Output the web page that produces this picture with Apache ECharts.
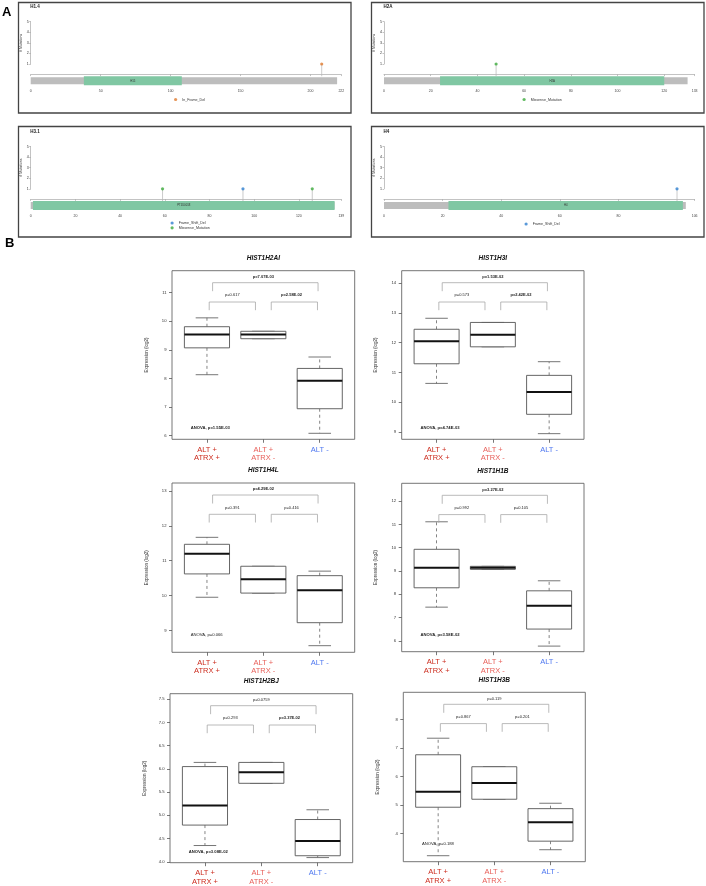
<!DOCTYPE html>
<html><head><meta charset="utf-8">
<script src="https://cdn.jsdelivr.net/npm/echarts@6/dist/echarts.min.js"></script>
<style>html,body{margin:0;padding:0;background:#fff}#c{width:706px;height:886px}</style>
</head><body><div id="c"></div>
<script>
// ---------------- Panel A data ----------------
const protNames = ['H1.4', 'H2A', 'H3.1', 'H4'];
const protLength = [219, 130, 136, 103];
const protAxisMax = [222, 133, 139, 106];
const protTicks = [
  [0, 50, 100, 150, 200, 222],
  [0, 20, 40, 60, 80, 100, 120, 133],
  [0, 20, 40, 60, 80, 100, 120, 139],
  [0, 20, 40, 60, 80, 106]
];
const domainName = ['H15', 'H2A', 'PTZ00018', 'H4'];
const domainStart = [38, 24, 1, 22];
const domainEnd = [108, 120, 136, 102];
const mutPos = [[208], [48], [59, 95, 126], [100]];
const mutCount = [[1], [1], [1, 1, 1], [1]];
const mutType = [['In_Frame_Del'], ['Missense_Mutation'], ['Missense_Mutation', 'Frame_Shift_Del', 'Missense_Mutation'], ['Frame_Shift_Del']];
const mutTicks = [1, 2, 3, 4, 5];

// ---------------- Panel B data ----------------
const genes = ['HIST1H2AI', 'HIST1H3I', 'HIST1H4L', 'HIST1H1B', 'HIST1H2BJ', 'HIST1H3B'];
const groups = ['ALT +\nATRX +', 'ALT +\nATRX -', 'ALT -'];
// per group: [lower whisker, Q1, median, Q3, upper whisker]
const stats_HIST1H2AI = [[8.13, 9.07, 9.54, 9.81, 10.12], [9.39, 9.39, 9.54, 9.65, 9.65], [6.08, 6.94, 7.92, 8.35, 8.75]];
const stats_HIST1H3I  = [[10.63, 11.29, 12.05, 12.45, 12.82], [11.86, 11.86, 12.27, 12.68, 12.68], [8.94, 9.59, 10.34, 10.90, 11.36]];
const stats_HIST1H4L  = [[9.95, 10.62, 11.20, 11.47, 11.67], [10.07, 10.07, 10.47, 10.84, 10.84], [8.56, 9.22, 10.15, 10.57, 10.70]];
const stats_HIST1H1B  = [[7.45, 8.28, 9.14, 9.93, 11.11], [9.07, 9.07, 9.14, 9.20, 9.20], [5.78, 6.51, 7.51, 8.15, 8.58]];
const stats_HIST1H2BJ = [[4.35, 4.79, 5.21, 6.05, 6.14], [5.69, 5.69, 5.93, 6.14, 6.14], [4.09, 4.13, 4.45, 4.91, 5.12]];
const stats_HIST1H3B  = [[3.22, 4.92, 5.46, 6.76, 7.34], [5.20, 5.20, 5.77, 6.34, 6.34], [3.43, 3.73, 4.39, 4.87, 5.06]];
const allStats = [stats_HIST1H2AI, stats_HIST1H3I, stats_HIST1H4L, stats_HIST1H1B, stats_HIST1H2BJ, stats_HIST1H3B];
const pPair12  = ['p=0.617', 'p=0.573', 'p=0.391', 'p=0.992', 'p=0.293', 'p=0.867'];
const pPair23  = ['p=2.58E-02', 'p=2.42E-02', 'p=0.416', 'p=0.105', 'p=3.37E-02', 'p=0.201'];
const pOverall = ['p=7.07E-03', 'p=1.53E-02', 'p=4.29E-02', 'p=3.27E-02', 'p=0.0759', 'p=0.119'];
const pAnova   = ['ANOVA, p=1.55E-03', 'ANOVA, p=4.74E-03', 'ANOVA, p=0.066', 'ANOVA, p=3.58E-02', 'ANOVA, p=3.08E-02', 'ANOVA, p=0.188'];
const yMin = [5.87, 8.75, 8.37, 5.54, 3.98, 3.01];
const yMax = [11.77, 14.42, 13.23, 12.76, 7.62, 8.95];
const yTicks = [
  [6, 7, 8, 9, 10, 11],
  [9, 10, 11, 12, 13, 14],
  [9, 10, 11, 12, 13],
  [6, 7, 8, 9, 10, 11, 12],
  [4.0, 4.5, 5.0, 5.5, 6.0, 6.5, 7.0, 7.5],
  [4, 5, 6, 7, 8]
];
const yTickLabels = [
  ['6', '7', '8', '9', '10', '11'],
  ['9', '10', '11', '12', '13', '14'],
  ['9', '10', '11', '12', '13'],
  ['6', '7', '8', '9', '10', '11', '12'],
  ['4.0', '4.5', '5.0', '5.5', '6.0', '6.5', '7.0', '7.5'],
  ['4', '5', '6', '7', '8']
];

// ---------------- layout / style ----------------
const FONT = "'Liberation Sans', Arial, Helvetica, sans-serif";
const mutColors = { In_Frame_Del: '#e07b2e', Missense_Mutation: '#3caa3c', Frame_Shift_Del: '#2f7fd0' };
const A_FRAME_X = [18.5, 371.5], A_FRAME_Y = [2.5, 126.5], A_FRAME_W = 332.5, A_FRAME_H = 110.5;
const A_AXIS_X = [30.7, 384], A_AXIS_W = 310.6, A_Y5 = [21.7, 146.5], A_UNIT = 10.575, A_YMIN = -1.2;
const A_LEGEND = [[174, 97.5], [522.5, 97.5], [170.5, 221], [524.5, 222]];
const B_GRIDS = [
  { left: 172, top: 270.7, width: 182.7, height: 168.6 },
  { left: 401.7, top: 270.7, width: 182.3, height: 168.6 },
  { left: 172, top: 483, width: 182.7, height: 169.3 },
  { left: 401.7, top: 483.3, width: 182.3, height: 168.4 },
  { left: 170, top: 693.7, width: 182.7, height: 169 },
  { left: 403.3, top: 692.3, width: 182, height: 169.4 }
];
const B_XMIN = 0.38, B_XMAX = 3.62;
const ANOVA_DY = [-11.6, -11.6, -17.3, -16.7, -11, -17.4];
const BRK = [
  { x1: 1.04, x2: 1.86, y: 31.3, drop: 8.2, ly: 24.4, lx: 1.45 },
  { x1: 2.14, x2: 2.96, y: 31.3, drop: 8.2, ly: 24.4, lx: 2.5 },
  { x1: 1.10, x2: 2.97, y: 12, drop: 8.5, ly: 6.2, lx: 2.0 }
];
const grpColors = ['#cc2b1d', '#e8605a', '#4f78f0'];

const isSig = s => parseFloat(s.replace(/.*p=/, '')) < 0.05;

const grids = [], xAxes = [], yAxes = [], series = [], legends = [], graphics = [];

graphics.push({ type: 'text', silent: true, style: { text: 'A', x: 2, y: 12.5, font: `bold 13px ${FONT}`, fill: '#000', textVerticalAlign: 'middle', verticalAlign: 'middle' } });
graphics.push({ type: 'text', silent: true, style: { text: 'B', x: 5, y: 243.5, font: `bold 13px ${FONT}`, fill: '#000', textVerticalAlign: 'middle', verticalAlign: 'middle' } });

// ---------------- Panel A: lollipop plots ----------------
protNames.forEach((name, i) => {
  const col = i % 2, row = Math.floor(i / 2);
  const left = A_AXIS_X[col], top = A_Y5[row];
  graphics.push({ type: 'rect', silent: true, shape: { x: A_FRAME_X[col], y: A_FRAME_Y[row], width: A_FRAME_W, height: A_FRAME_H },
    style: { fill: 'none', stroke: '#444', lineWidth: 1.3 } });
  graphics.push({ type: 'text', silent: true, style: { text: name, x: left - 0.5, y: top - 14.5, font: `bold 4.5px ${FONT}`, fill: '#222', textVerticalAlign: 'middle', verticalAlign: 'middle' } });

  // main grid
  const g = grids.length;
  grids.push({ left: left, top: top, width: A_AXIS_W, height: (5 - A_YMIN) * A_UNIT });
  xAxes.push({ gridIndex: g, type: 'value', min: 0, max: protAxisMax[i],
    axisLine: { lineStyle: { color: '#9a9a9a', width: 0.6 } },
    axisTick: { customValues: protTicks[i], length: 1.5, lineStyle: { color: '#9a9a9a', width: 0.6 } },
    axisLabel: { customValues: protTicks[i], fontSize: 3.5, margin: 2, color: '#444', fontFamily: FONT },
    splitLine: { show: false } });
  yAxes.push({ gridIndex: g, type: 'value', min: A_YMIN, max: 5, show: false });

  // protein bar + domain
  series.push({ type: 'custom', xAxisIndex: g, yAxisIndex: g, silent: true, z: 2,
    data: [[0, protLength[i], 0], [domainStart[i], domainEnd[i], 1]],
    renderItem: (params, api) => {
      const s = api.coord([api.value(0), 0])[0], e = api.coord([api.value(1), 0])[0];
      const base = api.coord([0, A_YMIN])[1];
      const dom = api.value(2) === 1;
      const y = dom ? base - 11 : base - 10, h = dom ? 9 : 7;
      const children = [{ type: 'rect', shape: { x: s, y: y, width: e - s, height: h }, style: { fill: dom ? '#80c7a3' : '#bdbdbd' } }];
      if (dom) children.push({ type: 'text', style: { text: domainName[i], x: (s + e) / 2, y: y + h / 2, font: `2.8px ${FONT}`, fill: '#333',
        align: 'center', textAlign: 'center', verticalAlign: 'middle', textVerticalAlign: 'middle' } });
      return { type: 'group', children };
    } });
  // stems
  series.push({ type: 'custom', xAxisIndex: g, yAxisIndex: g, silent: true, z: 3,
    data: mutPos[i].map((p, k) => [p, mutCount[i][k]]),
    renderItem: (params, api) => {
      const pt = api.coord([api.value(0), api.value(1)]);
      const base = api.coord([0, A_YMIN])[1];
      return { type: 'line', shape: { x1: pt[0], y1: pt[1], x2: pt[0], y2: base - 11 }, style: { stroke: '#b5b5b5', lineWidth: 0.7 } };
    } });
  // points
  const types = [...new Set(mutType[i])].sort();
  types.forEach(t => {
    series.push({ type: 'scatter', name: t, xAxisIndex: g, yAxisIndex: g, z: 5, symbol: 'circle', symbolSize: 3.2,
      itemStyle: { color: mutColors[t] },
      data: mutPos[i].map((p, k) => [p, mutCount[i][k], mutType[i][k]]).filter(d => d[2] === t).map(d => [d[0], d[1]]) });
  });
  legends.push({ data: types, orient: 'vertical', left: A_LEGEND[i][0], top: A_LEGEND[i][1], icon: 'circle', itemWidth: 3.2, itemHeight: 3.2,
    itemGap: 0.8, padding: 0, selectedMode: false, textStyle: { fontSize: 3.6, color: '#333', fontFamily: FONT } });

  // overlay grid for the mutation-count axis
  const g2 = grids.length;
  grids.push({ left: left, top: top, width: A_AXIS_W, height: 4 * A_UNIT });
  xAxes.push({ gridIndex: g2, type: 'value', min: 0, max: 1, show: false });
  yAxes.push({ gridIndex: g2, type: 'value', min: 1, max: 5,
    axisLine: { show: true, lineStyle: { color: '#9a9a9a', width: 0.6 } },
    axisTick: { show: true, customValues: mutTicks, length: 1.5, lineStyle: { color: '#9a9a9a', width: 0.6 } },
    axisLabel: { customValues: mutTicks, fontSize: 3.6, margin: 2, color: '#333', fontFamily: FONT },
    splitLine: { show: false },
    name: '# Mutations', nameLocation: 'middle', nameGap: 6, nameTextStyle: { fontSize: 3.5, color: '#333', fontFamily: FONT } });
});

// ---------------- Panel B: box plots ----------------
genes.forEach((gene, j) => {
  const L = B_GRIDS[j];
  const g = grids.length;
  grids.push({ left: L.left, top: L.top, width: L.width, height: L.height, show: true, borderColor: '#666', borderWidth: 0.9, backgroundColor: 'transparent' });
  graphics.push({ type: 'text', silent: true, style: { text: gene, x: L.left + L.width / 2, y: L.top - 12.3, font: `italic bold 6.5px ${FONT}`, fill: '#111',
    align: 'center', textAlign: 'center', verticalAlign: 'middle', textVerticalAlign: 'middle' } });
  const rich = {};
  grpColors.forEach((c, k) => { rich['c' + k] = { color: c, fontSize: 7.5, lineHeight: 8.5, fontFamily: FONT }; });
  xAxes.push({ gridIndex: g, type: 'value', min: B_XMIN, max: B_XMAX, axisLine: { show: false }, splitLine: { show: false },
    axisTick: { show: true, customValues: [1, 2, 3], length: 3.5, lineStyle: { color: '#555', width: 0.8 } },
    axisLabel: { customValues: [1, 2, 3], margin: 6.2, rich,
      formatter: v => { const k = Math.round(v) - 1; return groups[k].split('\n').map(s => `{c${k}|${s}}`).join('\n'); } } });
  yAxes.push({ gridIndex: g, type: 'value', min: yMin[j], max: yMax[j], axisLine: { show: false }, splitLine: { show: false },
    axisTick: { show: true, customValues: yTicks[j], length: 3, lineStyle: { color: '#555', width: 0.8 } },
    axisLabel: { customValues: yTicks[j], fontSize: 4.2, margin: 5.5, color: '#333', fontFamily: FONT,
      formatter: v => { const k = yTicks[j].findIndex(t => Math.abs(t - v) < 1e-6); return k >= 0 ? yTickLabels[j][k] : ''; } },
    name: 'Expression (log2)', nameLocation: 'middle', nameGap: 23, nameTextStyle: { fontSize: 4.5, color: '#333', fontFamily: FONT } });

  // boxes
  series.push({ type: 'custom', xAxisIndex: g, yAxisIndex: g, silent: true, z: 3,
    data: allStats[j].map((s, k) => [k + 1, ...s]),
    renderItem: (params, api) => {
      const x = api.value(0);
      const mn = api.value(1), q1 = api.value(2), md = api.value(3), q3 = api.value(4), mx = api.value(5);
      const Y = v => api.coord([x, v])[1];
      const X = u => api.coord([u, mn])[0];
      const xl = X(x - 0.4), xr = X(x + 0.4), xc = X(x), cl = X(x - 0.2), cr = X(x + 0.2);
      const wStyle = { stroke: '#666', lineWidth: 0.8, lineDash: [3, 3] };
      const cStyle = { stroke: '#666', lineWidth: 0.9 };
      return { type: 'group', children: [
        { type: 'line', shape: { x1: xc, y1: Y(q3), x2: xc, y2: Y(mx) }, style: wStyle },
        { type: 'line', shape: { x1: xc, y1: Y(q1), x2: xc, y2: Y(mn) }, style: wStyle },
        { type: 'line', shape: { x1: cl, y1: Y(mx), x2: cr, y2: Y(mx) }, style: cStyle },
        { type: 'line', shape: { x1: cl, y1: Y(mn), x2: cr, y2: Y(mn) }, style: cStyle },
        { type: 'rect', shape: { x: xl, y: Y(q3), width: xr - xl, height: Y(q1) - Y(q3) }, style: { fill: '#fff', stroke: '#555', lineWidth: 0.9 } },
        { type: 'line', shape: { x1: xl, y1: Y(md), x2: xr, y2: Y(md) }, style: { stroke: '#111', lineWidth: 2 } }
      ] };
    } });

  // comparison brackets and p-values
  const pTexts = [pPair12[j], pPair23[j], pOverall[j]];
  series.push({ type: 'custom', xAxisIndex: g, yAxisIndex: g, silent: true, z: 4,
    data: [[1, yMax[j]], [2, yMax[j]], [3, yMax[j]]],
    renderItem: (params, api) => {
      const b = BRK[params.dataIndex];
      const gtop = api.coord([1, yMax[j]])[1];
      const X1 = api.coord([b.x1, yMax[j]])[0], X2 = api.coord([b.x2, yMax[j]])[0], LX = api.coord([b.lx, yMax[j]])[0];
      const yy = gtop + b.y;
      const t = pTexts[params.dataIndex];
      return { type: 'group', children: [
        { type: 'polyline', shape: { points: [[X1, yy + b.drop], [X1, yy], [X2, yy], [X2, yy + b.drop]] }, style: { fill: 'none', stroke: '#a8a8a8', lineWidth: 0.8 } },
        { type: 'text', style: { text: t, x: LX, y: gtop + b.ly, font: `${isSig(t) ? 'bold ' : ''}4px ${FONT}`, fill: '#222',
          align: 'center', textAlign: 'center', verticalAlign: 'middle', textVerticalAlign: 'middle' } }
      ] };
    } });
  // ANOVA
  series.push({ type: 'custom', xAxisIndex: g, yAxisIndex: g, silent: true, z: 4,
    data: [[1, yMin[j]]],
    renderItem: (params, api) => {
      const p = api.coord([B_XMIN, yMin[j]]);
      const t = pAnova[j];
      return { type: 'text', style: { text: t, x: p[0] + 18.7, y: p[1] + ANOVA_DY[j], font: `${isSig(t) ? 'bold ' : ''}4.2px ${FONT}`, fill: '#222',
        align: 'left', textAlign: 'left', verticalAlign: 'middle', textVerticalAlign: 'middle' } };
    } });
});

const chart = echarts.init(document.getElementById('c'), null, { renderer: 'canvas' });
chart.setOption({
  animation: false,
  backgroundColor: '#fff',
  textStyle: { fontFamily: FONT },
  grid: grids, xAxis: xAxes, yAxis: yAxes, series: series, legend: legends,
  graphic: { elements: graphics }
});
</script></body></html>
